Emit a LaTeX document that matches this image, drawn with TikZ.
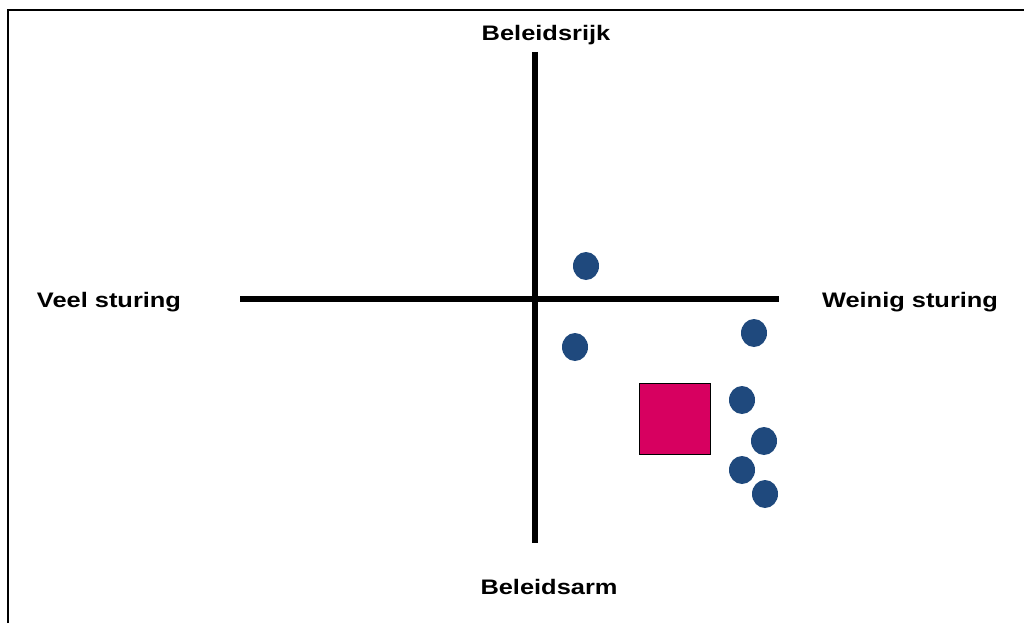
\documentclass[tikz,border=0pt]{standalone}
\usepackage{fontspec}
\setmainfont{Liberation Sans}
\usetikzlibrary{shapes.geometric}
\definecolor{dotblue}{HTML}{1F497D}
\definecolor{boxpink}{HTML}{D70060}
\newcommand{\wide}[1]{\scalebox{1.21}[1]{#1}}
\begin{document}
\begin{tikzpicture}[x=1pt,y=-1pt,
  lbl/.style={font=\bfseries\fontsize{21}{24}\selectfont, inner sep=0pt, anchor=base},
  axis/.style={line width=5.5pt},
  dot/.style={ellipse, fill=dotblue, minimum width=26pt, minimum height=28pt, inner sep=0pt},
  sq/.style={draw=black, line width=1pt, fill=boxpink, minimum size=71pt, inner sep=0pt},
  frameline/.style={line width=2pt}]
\useasboundingbox (0,0) rectangle (1024,623);
\coordinate (fc) at (8,623);
\coordinate (ftl) at (8,10);
\coordinate (ftr) at (1024,10);
\draw[frameline] (fc) -- (ftl) -- (ftr);
% axes
\coordinate (vt) at (535,52);
\coordinate (vb) at (535,543);
\coordinate (hl) at (240,299);
\coordinate (hr) at (779,299);
\draw[axis] (vt) -- (vb);
\draw[axis] (hl) -- (hr);
% labels
\node[lbl] (top) at (546,41) {\wide{Beleidsrijk}};
\node[lbl] (bot) at (549,594) {\wide{Beleidsarm}};
\node[lbl] (left) at (109,307) {\wide{Veel sturing}};
\node[lbl] (right) at (910,307) {\wide{Weinig sturing}};
% square
\node[sq] (box) at (675,418.5) {};
% dots
\node[dot] (d1) at (586,266) {};
\node[dot] (d2) at (575,347) {};
\node[dot] (d3) at (754,333) {};
\node[dot] (d4) at (742,400) {};
\node[dot] (d5) at (764,441) {};
\node[dot] (d6) at (742,470) {};
\node[dot] (d7) at (765,494) {};
\end{tikzpicture}
\end{document}
